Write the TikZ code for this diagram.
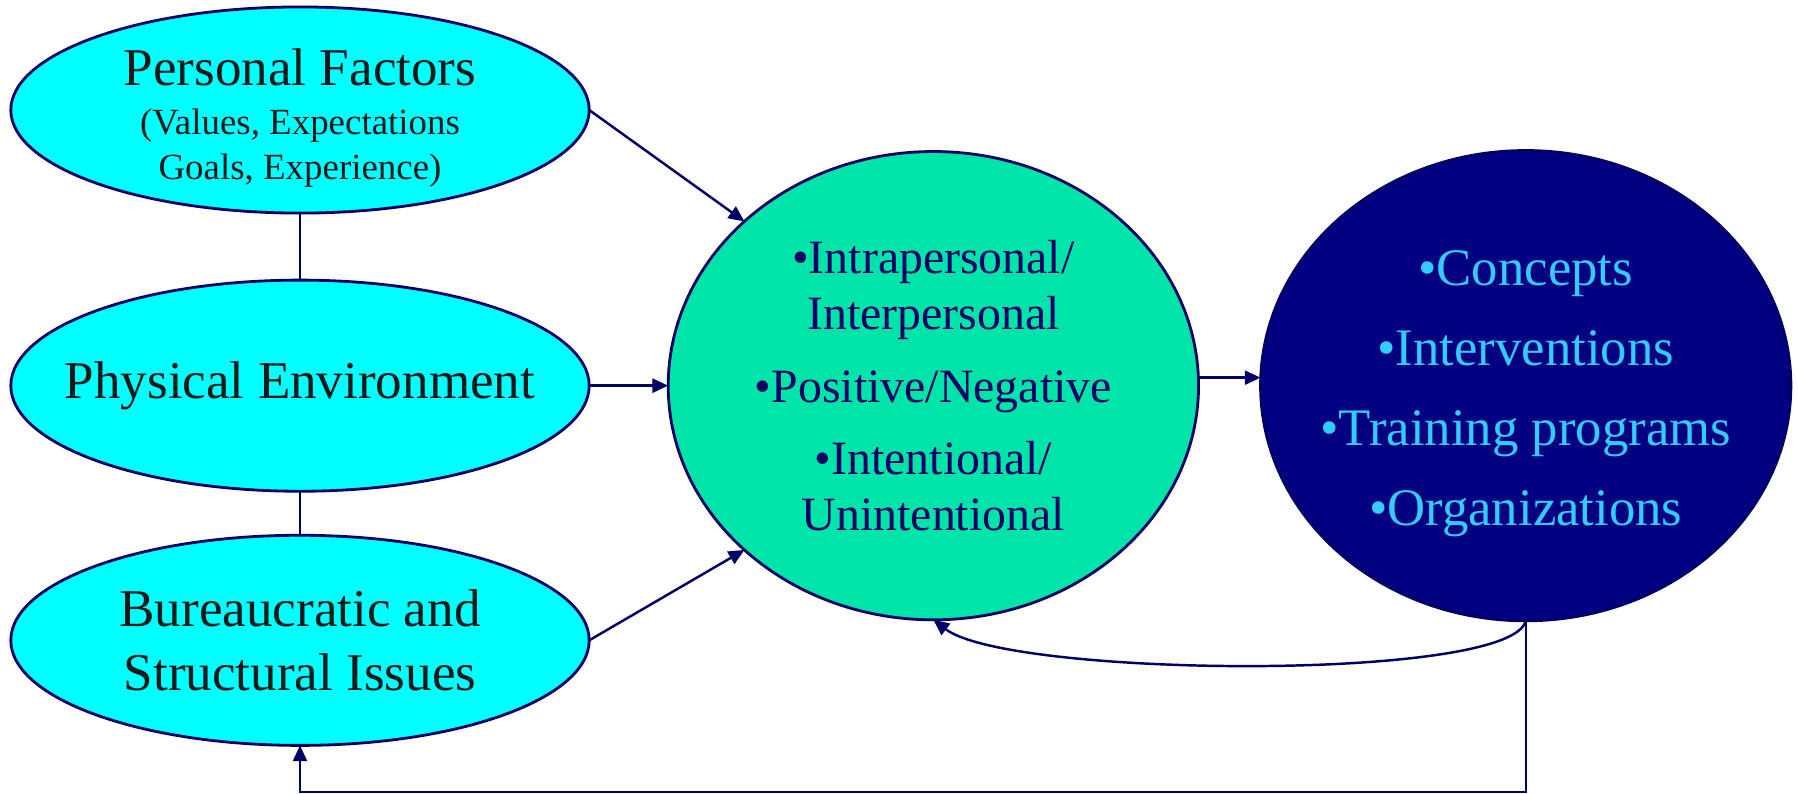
\documentclass[tikz,border=0pt]{standalone}
\usepackage{fontspec}
\setmainfont{Liberation Serif}
\usetikzlibrary{positioning,shapes.geometric,arrows.meta}
\definecolor{linenavy}{HTML}{000066}
\definecolor{factorcyan}{HTML}{00FFFF}
\definecolor{conflictgreen}{HTML}{00E3A9}
\definecolor{outcomenavy}{HTML}{000080}
\definecolor{outcometext}{HTML}{33CCFF}

\begin{document}
\begin{tikzpicture}[x=0.01cm, y=-0.01cm, >={Triangle[length=4.5pt,width=4pt]}]
  \tikzset{
    factor/.style={draw=linenavy, line width=0.8pt, ellipse, fill=factorcyan, inner xsep=-10pt, inner ysep=-3pt, outer sep=0pt, minimum width=5.78cm, minimum height=2.08cm, text=black!90, align=center, font=\fontsize{15.1}{18.2}\selectfont},
    conflict/.style={draw=linenavy, line width=0.8pt, ellipse, fill=conflictgreen, inner sep=0pt, outer sep=0pt, minimum width=5.3cm, minimum height=4.68cm, text=linenavy, align=center, font=\fontsize{13.6}{16}\selectfont},
    outcome/.style={draw=linenavy, line width=0.8pt, ellipse, fill=outcomenavy, inner xsep=-6pt, inner ysep=0pt, outer sep=0pt, minimum width=5.3cm, minimum height=4.7cm, text=outcometext, align=center, font=\fontsize{15}{22.8}\selectfont},
    link/.style={draw=linenavy, line width=0.7pt}
  }
  \useasboundingbox (0,0) rectangle (1798,793);

  \node[factor, minimum height=2.06cm] (personal) at (300,110) {\rule{0pt}{15pt}Personal Factors\\[-4.5pt]{\fontsize{10.5}{12.8}\selectfont (Values, Expectations}\\[-5.4pt]{\fontsize{10.5}{12.8}\selectfont Goals, Experience)}};
  \node[factor, minimum height=2.11cm, below=0.67cm of personal] (physical) {Physical Environment};
  \node[factor, minimum height=2.10cm, below=0.44cm of physical] (bureau) {Bureaucratic and\\Structural Issues};

  \node[conflict, right=0.79cm of physical] (conflict) {•Intrapersonal/\\Interpersonal\\[4.5pt]•Positive/Negative\\[4.5pt]•Intentional/\\Unintentional};
  \node[outcome, right=0.62cm of conflict] (outcome) {\rule{0pt}{14.5pt}•Concepts\\•Interventions\\•Training programs\\•Organizations};

  \draw[link] (personal) -- (physical);
  \draw[link] (physical) -- (bureau);
  \draw[link,->] (personal.east) -- (conflict.139);
  \draw[link,->] (physical.east) -- (conflict.west);
  \draw[link,->] (bureau.east) -- (conflict.221);
  \draw[link,->] ([yshift=0.08cm]conflict.east) -- ([yshift=0.08cm]outcome.west);
  \draw[link,->] (outcome.south) .. controls +(-14,61) and +(76,58) .. (conflict.south);
  \draw[link,->] (outcome.south) -- ++(0,171) -| (bureau.south);
\end{tikzpicture}
\end{document}
